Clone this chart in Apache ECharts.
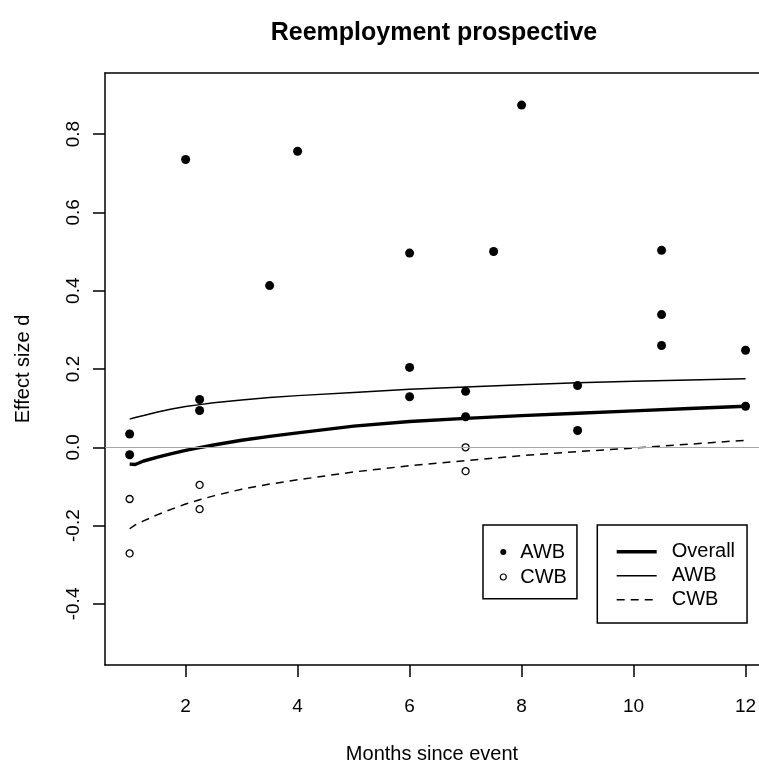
<!DOCTYPE html>
<html><head><meta charset="utf-8">
<script src="https://cdn.jsdelivr.net/npm/echarts@6/dist/echarts.min.js"></script>
<style>html,body{margin:0;padding:0;background:#fff}#chart{width:759px;height:763px}</style>
</head><body><div id="chart"></div>
<script>
const chartTitle = 'Reemployment prospective';
const xAxisTitle = 'Months since event';
const yAxisTitle = 'Effect size d';
const xTicks = [2, 4, 6, 8, 10, 12];
const yTicks = [-0.4, -0.2, 0, 0.2, 0.4, 0.6, 0.8];

const awbMonths  = [1, 1, 2, 2.25, 2.25, 3.5, 4, 6, 6, 6, 7, 7, 7.5, 8, 9, 9, 10.5, 10.5, 10.5, 12, 12];
const awbEffects = [0.034, -0.019, 0.735, 0.122, 0.094, 0.413, 0.756, 0.496, 0.204, 0.129, 0.143, 0.078, 0.5, 0.874, 0.158, 0.043, 0.503, 0.339, 0.26, 0.248, 0.105];
const cwbMonths  = [1, 1, 2.25, 2.25, 7, 7];
const cwbEffects = [-0.132, -0.271, -0.096, -0.158, 0.0, -0.061];

const fitMonths  = [1, 1.1, 1.25, 1.5, 1.75, 2, 2.25, 2.5, 3, 3.5, 4, 5, 6, 7, 8, 9, 10, 11, 12];
const overallFit = [-0.043, -0.044, -0.035, -0.025, -0.016, -0.008, -0.001, 0.006, 0.018, 0.028, 0.037, 0.054, 0.066, 0.074, 0.081, 0.087, 0.093, 0.099, 0.105];
const awbFit     = [0.072, 0.076, 0.081, 0.090, 0.098, 0.104, 0.109, 0.114, 0.121, 0.127, 0.132, 0.140, 0.148, 0.154, 0.160, 0.165, 0.169, 0.172, 0.175];
const cwbFit     = [-0.208, -0.198, -0.188, -0.172, -0.158, -0.145, -0.134, -0.124, -0.107, -0.094, -0.083, -0.063, -0.047, -0.034, -0.021, -0.011, -0.002, 0.008, 0.018];

const pointLegend = ['AWB', 'CWB'];
const lineLegend  = ['Overall', 'AWB', 'CWB'];
const fitNames    = ['Overall', 'AWB fit', 'CWB fit'];

const FONT = '"Liberation Sans", Arial, sans-serif';
const pairs = (xs, ys) => xs.map((x, i) => [x, ys[i]]);
const X_MIN = 0.56, X_MAX = 12.24, Y_MIN = -0.556, Y_MAX = 0.956;
const LINE_W = [3.4, 1.5, 1.5];
const LINE_TYPE = ['solid', 'solid', [8, 6]];
const hiddenSymbol = {color: 'rgba(0,0,0,0)', borderWidth: 0, opacity: 0};

const chart = echarts.init(document.getElementById('chart'), null, {renderer: 'canvas'});
chart.setOption({
  animation: false,
  backgroundColor: '#fff',
  textStyle: {fontFamily: FONT, color: '#000'},
  title: {
    text: chartTitle,
    left: 429, top: 16, textAlign: 'center',
    textStyle: {fontFamily: FONT, fontSize: 25, fontWeight: 'bold', color: '#000'}
  },
  grid: {
    left: 105, top: 73, right: 0, bottom: 98,
    show: false, containLabel: false, outerBoundsMode: 'none'
  },
  xAxis: [
    {
      type: 'value', min: X_MIN, max: X_MAX, position: 'bottom',
      axisLine: {show: true, onZero: false, lineStyle: {color: '#000', width: 1.5}},
      splitLine: {show: false},
      axisTick: {show: true, customValues: xTicks, length: 12, lineStyle: {color: '#000', width: 1.5}},
      axisLabel: {customValues: xTicks, margin: 32, fontSize: 19, color: '#000', fontFamily: FONT},
      name: xAxisTitle, nameLocation: 'middle', nameGap: 79,
      nameTextStyle: {fontSize: 20, color: '#000', fontFamily: FONT}
    },
    {
      type: 'value', min: X_MIN, max: X_MAX, position: 'top',
      axisLine: {show: true, onZero: false, lineStyle: {color: '#000', width: 1.5}},
      splitLine: {show: false}, axisTick: {show: false}, axisLabel: {show: false}
    }
  ],
  yAxis: {
    type: 'value', min: Y_MIN, max: Y_MAX,
    axisLine: {show: true, onZero: false, lineStyle: {color: '#000', width: 1.5}},
    splitLine: {show: false},
    axisTick: {show: true, customValues: yTicks, length: 12, lineStyle: {color: '#000', width: 1.5}},
    axisLabel: {customValues: yTicks, rotate: 90, margin: 22, fontSize: 19, color: '#000', fontFamily: FONT,
      formatter: v => v.toFixed(1)},
    name: yAxisTitle, nameLocation: 'middle', nameGap: 72, nameRotate: 90,
    nameTextStyle: {fontSize: 20, color: '#000', fontFamily: FONT}
  },
  legend: [
    {
      orient: 'vertical', left: 483, top: 525,
      data: [
        {name: pointLegend[0], icon: 'circle', itemStyle: {color: '#000', borderWidth: 0}},
        {name: pointLegend[1], icon: 'circle', itemStyle: {color: '#fff', borderColor: '#000', borderWidth: 1.2}}
      ],
      itemWidth: 24, itemHeight: 6, itemGap: 5,
      padding: [17, 10, 11.8, 16.7],
      borderColor: '#000', borderWidth: 1.5,
      textStyle: {fontSize: 20, color: '#000', fontFamily: FONT},
      selectedMode: false
    },
    {
      orient: 'vertical', left: 597.3, top: 525,
      data: fitNames.map((n, i) => ({
        name: n,
        itemStyle: hiddenSymbol,
        lineStyle: {color: '#000', width: LINE_W[i], type: LINE_TYPE[i]}
      })),
      formatter: name => lineLegend[fitNames.indexOf(name)],
      itemWidth: 40, itemHeight: 8, itemGap: 4,
      itemStyle: hiddenSymbol,
      padding: [16.7, 12, 13.3, 17.7],
      borderColor: '#000', borderWidth: 1.5,
      textStyle: {fontSize: 20, color: '#000', fontFamily: FONT, padding: [0, 0, 0, 10]},
      selectedMode: false
    }
  ],
  series: [
    {
      name: fitNames[0], type: 'line', data: pairs(fitMonths, overallFit),
      showSymbol: false, symbol: 'none', smooth: false,
      lineStyle: {color: '#000', width: LINE_W[0], type: LINE_TYPE[0]}, itemStyle: {color: '#000'},
      markLine: {
        silent: true, symbol: 'none', label: {show: false},
        lineStyle: {color: '#a8a8a8', width: 1, type: 'solid'},
        data: [{yAxis: 0}]
      },
      z: 3
    },
    {
      name: fitNames[1], type: 'line', data: pairs(fitMonths, awbFit),
      showSymbol: false, symbol: 'none',
      lineStyle: {color: '#000', width: LINE_W[1], type: LINE_TYPE[1]}, itemStyle: {color: '#000'}, z: 3
    },
    {
      name: fitNames[2], type: 'line', data: pairs(fitMonths, cwbFit),
      showSymbol: false, symbol: 'none',
      lineStyle: {color: '#000', width: LINE_W[2], type: LINE_TYPE[2]}, itemStyle: {color: '#000'}, z: 3
    },
    {
      name: pointLegend[0], type: 'scatter', data: pairs(awbMonths, awbEffects),
      symbol: 'circle', symbolSize: 9,
      itemStyle: {color: '#000', opacity: 1}, z: 4
    },
    {
      name: pointLegend[1], type: 'scatter', data: pairs(cwbMonths, cwbEffects),
      symbol: 'circle', symbolSize: 7,
      itemStyle: {color: 'rgba(0,0,0,0)', borderColor: '#000', borderWidth: 1.3, opacity: 1}, z: 4
    }
  ]
});
</script>
</body></html>
